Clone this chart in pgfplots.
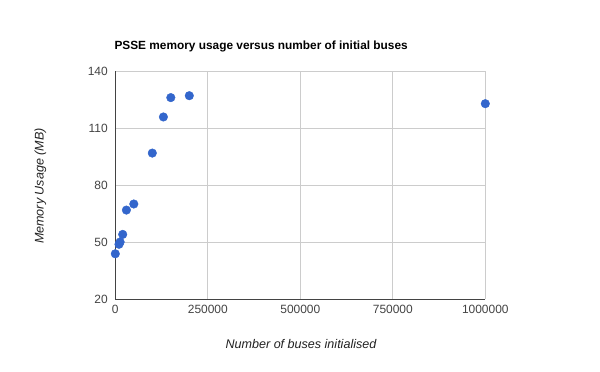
\documentclass[border=0pt]{standalone}
\usepackage{pgfplots}
\pgfplotsset{compat=1.18}
\usepackage{fontspec}
\setmainfont{Liberation Sans}
\definecolor{gblue}{HTML}{3366CC}
\definecolor{ggrid}{HTML}{CCCCCC}
\definecolor{gtext}{HTML}{222222}
\definecolor{gtick}{HTML}{444444}
\begin{document}
\begin{tikzpicture}[x=1bp,y=1bp]
\useasboundingbox (0,0) rectangle (600,371);
\fill[white] (0,0) rectangle (600,371);
\begin{axis}[
  at={(115.3bp,72bp)}, anchor=south west,
  scale only axis, width=370bp, height=228bp,
  xmin=0, xmax=1000000, ymin=20, ymax=140,
  xtick={0,250000,500000,750000,1000000},
  ytick={20,50,80,110,140},
  scaled x ticks=false,
  /pgf/number format/fixed,
  /pgf/number format/1000 sep={},
  /pgf/number format/assume math mode=true,
  major tick length=0pt,
  grid=major,
  major grid style={ggrid, line width=0.8bp},
  axis lines=left,
  axis line style={-, draw=gtext!85, line width=0.9bp},
  tick label style={font=\fontsize{12}{14}\selectfont, text=gtick},
  xticklabel style={yshift=-3bp},
  yticklabel style={xshift=-4bp},
  clip=false,
]
\addplot[only marks, mark=*, mark size=4.3bp, mark options={fill=gblue, draw=gblue}]
  coordinates {
  (0,43.8) (10000,48.8) (13000,50.0) (20000,54) (30000,66.8) (50000,70)
  (100000,96.8) (130000,115.8) (150000,126) (200000,127) (1000000,122.8)
  };
\end{axis}
\node[anchor=base west, font=\bfseries\fontsize{11.9}{14}\selectfont, text=black] at (111,322) {PSSE memory usage versus number of initial buses};
\node[font=\itshape\fontsize{12.6}{15}\selectfont, text=gtext] at (301,27) {Number of buses initialised};
\node[font=\itshape\fontsize{12.6}{15}\selectfont, text=gtext, rotate=90] at (40.5,185) {Memory Usage (MB)};
\end{tikzpicture}
\end{document}
